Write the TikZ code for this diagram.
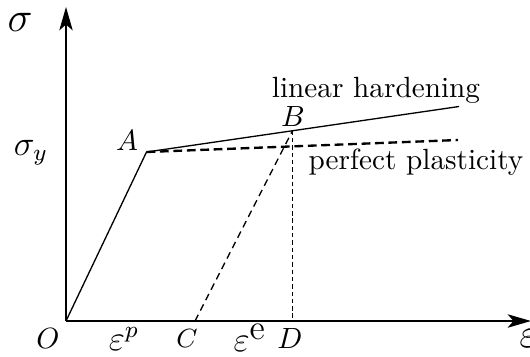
\documentclass[tikz,border=0pt]{standalone}
\usetikzlibrary{arrows.meta}
\begin{document}
\begin{tikzpicture}[x=0.342pt,y=0.342pt,line width=0.45pt,
  axis/.style={-{Stealth[length=8pt,width=4.6pt,inset=2pt]}},
  plastic/.style={line width=0.8pt,dash pattern=on 3pt off 1.6pt},
  unload/.style={dash pattern=on 2.4pt off 1.6pt},
  drop/.style={dash pattern=on 1.5pt off 1pt}]
\useasboundingbox (0,0) rectangle (530,356);

\coordinate (O) at (66,35);
\coordinate (ytop) at (66,349);
\coordinate (xend) at (531,35);
\coordinate (A) at (146.5,204);
\coordinate (B) at (292.5,225.3);
\coordinate (H) at (459,249.5);
\coordinate (P) at (458,216);
\coordinate (C) at (195,35);
\coordinate (D) at (292.5,35);

\draw[axis] (O) -- (ytop);
\draw[axis] (O) -- (xend);
\draw (O) -- (A) -- (H);
\draw[plastic] (A) -- (P);
\draw[unload] (C) -- (B);
\draw[drop] (B) -- (D);

\node (sig) at (20,334) {\Large$\sigma$};
\node (sigy) at (31,203) {\large$\sigma_y$};
\node (lA) at (127,216) {$A$};
\node (lB) at (293,240) {$B$};
\node (lin) at (376,266) {linear hardening};
\node (perf) at (416,194) {perfect plasticity};
\node (lO) at (48,18) {$O$};
\node (ep) at (124,17) {\large$\varepsilon^p$};
\node (lC) at (187,18) {\small$C$};
\node (ee) at (250,18) {\large$\varepsilon^{\textstyle\mathrm{e}}$};
\node (lD) at (290,18) {$D$};
\node[anchor=west] (eps) at (509,18) {\Large$\varepsilon$};
\end{tikzpicture}
\end{document}
